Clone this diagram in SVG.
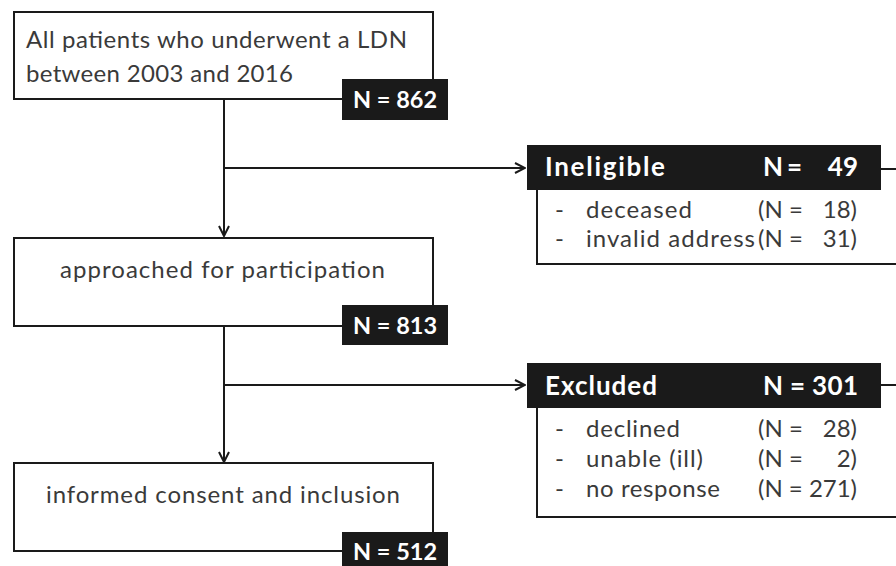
<svg xmlns="http://www.w3.org/2000/svg" width="896" height="566" viewBox="0 0 896 566">
<defs>
<style>
.box{fill:#fff;stroke:#1a1a1a;stroke-width:2}
.ln{fill:none;stroke:#1a1a1a;stroke-width:2}
.lbl{fill:#1a1a1a}
.t{font-family:Lato,"Open Sans",sans-serif;font-size:24px;fill:#3a3a3a}
.w{font-family:Lato,"Open Sans",sans-serif;font-size:23.5px;font-weight:bold;fill:#fff}
.h{font-family:Lato,"Open Sans",sans-serif;font-size:26px;font-weight:bold;fill:#fff}
</style>
<marker id="ah" viewBox="0 0 12 12" refX="11" refY="6" markerWidth="12" markerHeight="12" markerUnits="userSpaceOnUse" orient="auto">
<path d="M1,1 L11,6 L1,11" fill="none" stroke="#1a1a1a" stroke-width="2"/>
</marker>
</defs>
<rect width="896" height="566" fill="#fff"/>
<g id="connectors">
<line class="ln" x1="224" y1="99" x2="224" y2="236" marker-end="url(#ah)"/>
<line class="ln" x1="224" y1="168" x2="525" y2="168" marker-end="url(#ah)"/>
<line class="ln" x1="224" y1="326" x2="224" y2="462" marker-end="url(#ah)"/>
<line class="ln" x1="224" y1="385" x2="525" y2="385" marker-end="url(#ah)"/>
</g>
<g id="n1">
<rect class="box" x="14" y="12" width="419" height="87"/>
<text class="t" x="26" y="48" textLength="381">All patients who underwent a LDN</text>
<text class="t" x="26" y="82" textLength="267">between 2003 and 2016</text>
<rect class="lbl" x="342" y="79" width="106" height="41"/>
<text class="w" x="395" y="108" text-anchor="middle">N = 862</text>
</g>
<g id="n2">
<rect class="box" x="14" y="238" width="419" height="88"/>
<text class="t" x="60" y="278" textLength="325">approached for participation</text>
<rect class="lbl" x="342" y="305" width="106" height="40"/>
<text class="w" x="395" y="334" text-anchor="middle">N = 813</text>
</g>
<g id="n3">
<rect class="box" x="14" y="463" width="419" height="88"/>
<text class="t" x="46" y="503" textLength="354">informed consent and inclusion</text>
<rect class="lbl" x="342" y="532" width="106" height="34"/>
<text class="w" x="395" y="560" text-anchor="middle">N = 512</text>
</g>
<g id="ineligible">
<path class="ln" d="M880,169 H897 M537,190 V264 H897"/>
<rect class="lbl" x="527" y="145" width="354" height="45"/>
<text class="h" x="545" y="176" textLength="120">Ineligible</text>
<text class="h" x="763" y="176" textLength="39">N =</text>
<text class="h" x="858" y="176" text-anchor="end">49</text>
<text class="t" x="555" y="218">-</text>
<text class="t" x="586" y="218" textLength="106">deceased</text>
<text class="t" x="758" y="218">(N =</text>
<text class="t" x="857" y="218" text-anchor="end">18)</text>
<text class="t" x="555" y="247">-</text>
<text class="t" x="586" y="247" textLength="169">invalid address</text>
<text class="t" x="758" y="247">(N =</text>
<text class="t" x="857" y="247" text-anchor="end">31)</text>
</g>
<g id="excluded">
<path class="ln" d="M880,385 H897 M537,408 V517 H897"/>
<rect class="lbl" x="527" y="363" width="354" height="45"/>
<text class="h" x="545" y="395" textLength="112">Excluded</text>
<text class="h" x="763" y="395" textLength="95">N = 301</text>
<text class="t" x="555" y="437">-</text>
<text class="t" x="586" y="437" textLength="94">declined</text>
<text class="t" x="758" y="437">(N =</text>
<text class="t" x="857" y="437" text-anchor="end">28)</text>
<text class="t" x="555" y="467">-</text>
<text class="t" x="586" y="467" textLength="117">unable (ill)</text>
<text class="t" x="758" y="467">(N =</text>
<text class="t" x="857" y="467" text-anchor="end">2)</text>
<text class="t" x="555" y="497">-</text>
<text class="t" x="586" y="497" textLength="134">no response</text>
<text class="t" x="758" y="497" textLength="99">(N = 271)</text>
</g>
</svg>
